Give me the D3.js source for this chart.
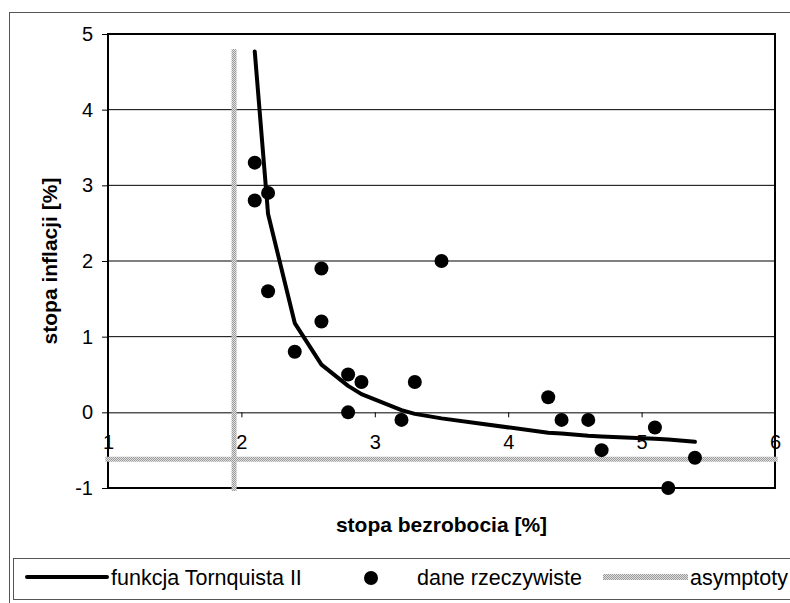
<!DOCTYPE html>
<html>
<head>
<meta charset="utf-8">
<script src="https://cdn.jsdelivr.net/npm/d3@7"></script>
<style>
  body { margin: 0; background: #fff; }
  text { font-family: "Liberation Sans", Arial, sans-serif; }
</style>
</head>
<body>
<div id="chart"></div>
<script>
// observed data: unemployment rate vs inflation rate
var unemployment = [2.1, 2.1, 2.2, 2.2, 2.4, 2.6, 2.6, 2.8, 2.8, 2.9, 3.2, 3.3, 3.5, 4.3, 4.4, 4.6, 4.7, 5.1, 5.2, 5.4];
var inflation    = [3.3, 2.8, 2.9, 1.6, 0.8, 1.9, 1.2, 0.5, 0.0, 0.4, -0.1, 0.4, 2.0, 0.2, -0.1, -0.1, -0.5, -0.2, -1.0, -0.6];

// fitted Tornquist II curve
var curveX = [2.1, 2.2, 2.4, 2.6, 2.8, 2.9, 3.2, 3.3, 3.5, 4.3, 4.4, 4.6, 4.7, 5.1, 5.2, 5.4];
var curveY = [4.77, 2.62, 1.18, 0.63, 0.35, 0.24, 0.03, -0.02, -0.08, -0.27, -0.28, -0.31, -0.32, -0.35, -0.36, -0.39];

// asymptotes
var asymX = 1.945, asymXFrom = -1.04, asymXTo = 4.8;
var asymY = -0.62, asymYFrom = 0.98, asymYTo = 6.02;

var xTicks = [1, 2, 3, 4, 5, 6];
var yTicks = [-1, 0, 1, 2, 3, 4, 5];

var xTitle = "stopa bezrobocia [%]";
var yTitle = "stopa inflacji [%]";
var legendLabels = ["funkcja Tornquista II", "dane rzeczywiste", "asymptoty"];

var svg = d3.select("#chart")
  .append("svg")
  .attr("width", 790)
  .attr("height", 603);

// grey dotted fill used for asymptotes
var pat = svg.append("defs").append("pattern")
  .attr("id", "dots")
  .attr("patternUnits", "userSpaceOnUse")
  .attr("width", 2).attr("height", 2);
pat.append("rect").attr("width", 2).attr("height", 2).attr("fill", "#e0e0e0");
pat.append("rect").attr("width", 1).attr("height", 1).attr("fill", "#9a9a9a");
pat.append("rect").attr("x", 1).attr("y", 1).attr("width", 1).attr("height", 1).attr("fill", "#9a9a9a");

// outer chart frame (runs off the right and bottom edge)
svg.append("rect")
  .attr("x", 9.5).attr("y", 12.5)
  .attr("width", 820).attr("height", 620)
  .attr("fill", "none")
  .attr("stroke", "#555");

var x = d3.scaleLinear().domain([1, 6]).range([108, 775]);
var y = d3.scaleLinear().domain([-1, 5]).range([488, 34]);

// plain hyphen for negatives, like the original
var fmt = function(d) { return String(d); };

// horizontal gridlines
svg.selectAll(".grid")
  .data(yTicks.filter(function(d) { return d > 0 && d < 5; }))
  .enter().append("line")
    .attr("x1", x(1)).attr("x2", x(6))
    .attr("y1", function(d) { return y(d); })
    .attr("y2", function(d) { return y(d); })
    .attr("stroke", "#000")
    .attr("stroke-width", 1);

// x axis sits at y = 0
var xAxis = d3.axisBottom(x)
  .tickValues(xTicks)
  .tickSize(5)
  .tickPadding(17)
  .tickFormat(fmt);
var gx = svg.append("g")
  .attr("transform", "translate(0," + y(0) + ")")
  .call(xAxis);
gx.select(".domain").attr("stroke", "#000");
gx.selectAll("text").attr("font-size", 20).attr("fill", "#000").attr("font-family", "Liberation Sans, Arial, sans-serif");

// y axis
var yAxis = d3.axisLeft(y)
  .tickValues(yTicks)
  .tickSize(6)
  .tickPadding(9)
  .tickFormat(fmt);
var gy = svg.append("g")
  .attr("transform", "translate(" + x(1) + ",0)")
  .call(yAxis);
gy.select(".domain").remove();
gy.selectAll("text").attr("font-size", 20).attr("fill", "#000").attr("font-family", "Liberation Sans, Arial, sans-serif");

// plot area border
svg.append("rect")
  .attr("x", x(1)).attr("y", y(5))
  .attr("width", x(6) - x(1)).attr("height", y(-1) - y(5))
  .attr("fill", "none")
  .attr("stroke", "#000")
  .attr("stroke-width", 2);

// asymptotes
svg.append("rect")
  .attr("x", x(asymX) - 2.5)
  .attr("y", y(asymXTo))
  .attr("width", 5)
  .attr("height", y(asymXFrom) - y(asymXTo))
  .attr("fill", "url(#dots)");
svg.append("rect")
  .attr("x", x(asymYFrom))
  .attr("y", y(asymY) - 2.5)
  .attr("width", x(asymYTo) - x(asymYFrom))
  .attr("height", 5)
  .attr("fill", "url(#dots)");

// fitted curve
var line = d3.line()
  .x(function(d, i) { return x(curveX[i]); })
  .y(function(d) { return y(d); });
svg.append("path")
  .datum(curveY)
  .attr("d", line)
  .attr("fill", "none")
  .attr("stroke", "#000")
  .attr("stroke-width", 4)
  .attr("stroke-linejoin", "round")
  .attr("stroke-linecap", "round");

// observed points
svg.selectAll(".pt")
  .data(inflation)
  .enter().append("circle")
    .attr("cx", function(d, i) { return x(unemployment[i]); })
    .attr("cy", function(d) { return y(d); })
    .attr("r", 7)
    .attr("fill", "#000");

// axis titles
svg.append("text")
  .attr("x", (x(1) + x(6)) / 2)
  .attr("y", 532)
  .attr("text-anchor", "middle")
  .attr("font-size", 21)
  .attr("font-weight", "bold")
  .text(xTitle);
svg.append("text")
  .attr("transform", "translate(57," + (y(5) + y(-1)) / 2 + ") rotate(-90)")
  .attr("text-anchor", "middle")
  .attr("font-size", 21)
  .attr("font-weight", "bold")
  .text(yTitle);

// legend
var lg = svg.append("g");
lg.append("rect")
  .attr("x", 13.5).attr("y", 558.5)
  .attr("width", 820).attr("height", 41)
  .attr("fill", "#fff")
  .attr("stroke", "#555");
lg.append("line")
  .attr("x1", 27).attr("x2", 107)
  .attr("y1", 577).attr("y2", 577)
  .attr("stroke", "#000")
  .attr("stroke-width", 4)
  .attr("stroke-linecap", "round");
lg.append("circle")
  .attr("cx", 371).attr("cy", 578)
  .attr("r", 7)
  .attr("fill", "#000");
lg.append("rect")
  .attr("x", 603).attr("y", 574)
  .attr("width", 85).attr("height", 6)
  .attr("fill", "url(#dots)");
var legendX = [111, 417, 690];
lg.selectAll(".lt")
  .data(legendLabels)
  .enter().append("text")
    .attr("x", function(d, i) { return legendX[i]; })
    .attr("y", 585)
    .attr("font-size", 21.5)
    .text(function(d) { return d; });
</script>
</body>
</html>
